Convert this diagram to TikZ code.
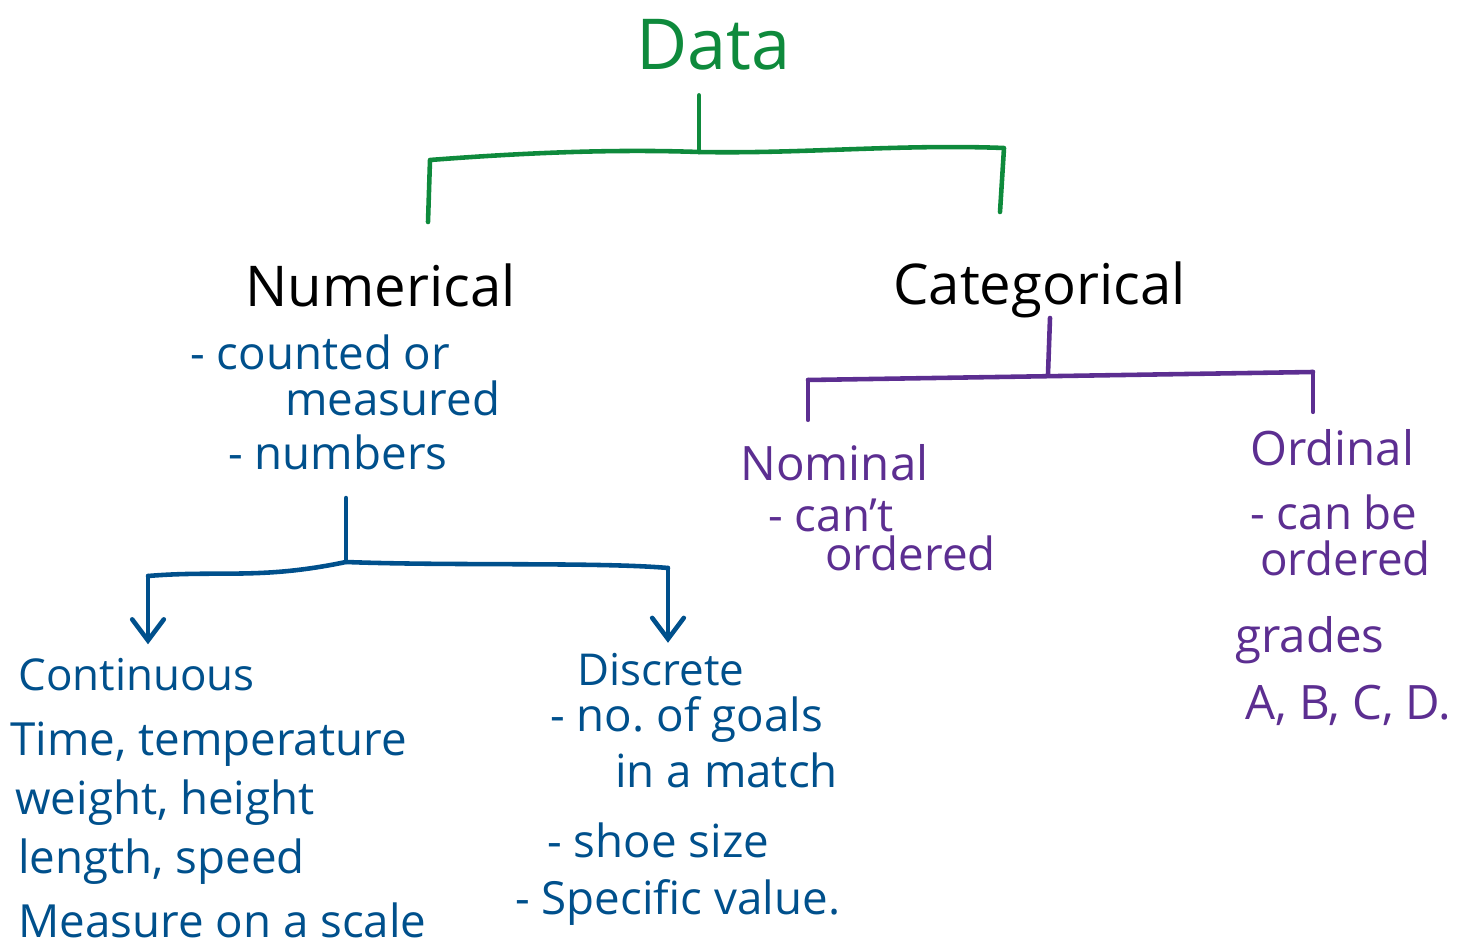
\documentclass[tikz,border=0pt]{standalone}
\usepackage{fontspec}
\setmainfont{Open Sans}
\definecolor{dgreen}{HTML}{0E8A3C}
\definecolor{dblue}{HTML}{00508C}
\definecolor{dpurple}{HTML}{5C2E91}
\usetikzlibrary{arrows.meta}

\begin{document}
\begin{tikzpicture}[x=0.02cm,y=-0.02cm,
  top/.style={inner sep=0pt,anchor=west,text=dgreen,font=\fontsize{40}{46}\selectfont},
  head/.style={inner sep=0pt,anchor=west,text=black,font=\fontsize{32}{36}\selectfont},
  sub/.style={inner sep=0pt,anchor=west,font=\fontsize{27}{32}\selectfont},
  sub2/.style={inner sep=0pt,anchor=west,font=\fontsize{25}{30}\selectfont},
  note/.style={inner sep=0pt,anchor=west,font=\fontsize{26}{30}\selectfont},
  ln/.style={line width=2.6pt,line cap=round,line join=round},
  arr/.style={ln,-{Straight Barb[length=12pt,width=18pt,line cap=round]}}]
  \useasboundingbox (0,0) rectangle (1461,952);
  % top level
  \node[top] (data) at (636,45) {Data};
  \node[head] (num) at (245,285) {Numerical};
  \node[head] (cat) at (893,290) {Categorical};
  \coordinate (gstem) at (699,152);
  \coordinate (gl) at (430,160);
  \coordinate (gr) at (1004,148);
  \coordinate (gdl) at (428,222);
  \coordinate (gdr) at (1000,212);
  \draw[ln,dgreen,shorten <=14pt] (gstem |- data.south) -- (gstem);
  \draw[ln,dgreen] (gdl) -- (gl) .. controls (560,150) and (640,150) .. (gstem)
    .. controls (800,154) and (900,144) .. (gr) -- (gdr);
  % numerical side
  \node[note,text=dblue] (n1) at (190,352) {- counted or};
  \node[note,text=dblue] (n2) at (285,398) {measured};
  \node[note,text=dblue] (n3) at (228,452) {- numbers};
  \coordinate (bstem) at (346,562);
  \coordinate (bl) at (148,576);
  \coordinate (br) at (668,568);
  \draw[ln,dblue,shorten <=16pt] (bstem |- n3.south) -- (bstem);
  \draw[ln,dblue] (bl) .. controls (220,570) and (260,580) .. (bstem)
    .. controls (450,566) and (600,562) .. (br);
  \node[sub2,text=dblue] (cont) at (18,675) {Continuous};
  \node[sub2,text=dblue] (disc) at (577,670) {Discrete};
  \draw[arr,dblue,shorten >=8pt] (bl) -- (bl |- cont.north);
  \draw[arr,dblue,shorten >=6pt] (br) -- (br |- disc.north);
  \node[note,text=dblue] (c1) at (10,744) {Time, temperature};
  \node[note,text=dblue] (c2) at (15,803) {weight, height};
  \node[note,text=dblue] (c3) at (18,862) {length, speed};
  \node[note,text=dblue] (c4) at (18,920) {Measure on a scale};
  \node[note,text=dblue] (d1) at (550,720) {- no.\ of goals};
  \node[note,text=dblue] (d2) at (615,770) {in a match};
  \node[note,text=dblue] (d3) at (547,840) {- shoe size};
  \node[note,text=dblue] (d4) at (515,903) {- Specific value.};
  % categorical side
  \coordinate (pstemtop) at (1050,318);
  \coordinate (pstem) at (1048,374);
  \coordinate (pl) at (808,380);
  \coordinate (pr) at (1313,372);
  \draw[ln,dpurple] (pstemtop) -- (pstem);
  \node[sub,text=dpurple] (nom) at (740,463) {Nominal};
  \node[sub,text=dpurple] (ord) at (1250,448) {Ordinal};
  \draw[ln,dpurple] (pl) -- (pr);
  \draw[ln,dpurple,shorten >=14pt] (pl) -- (nom.north -| pl);
  \draw[ln,dpurple,shorten >=10pt] (pr) -- (ord.north -| pr);
  \node[note,text=dpurple] (m1) at (768,515) {- can't};
  \node[note,text=dpurple] (m2) at (825,553) {ordered};
  \node[note,text=dpurple] (o1) at (1250,512) {- can be};
  \node[note,text=dpurple] (o2) at (1260,558) {ordered};
  \node[sub,text=dpurple] (o3) at (1235,640) {grades};
  \node[sub,text=dpurple] (o4) at (1245,705) {A, B, C, D.};
\end{tikzpicture}
\end{document}
